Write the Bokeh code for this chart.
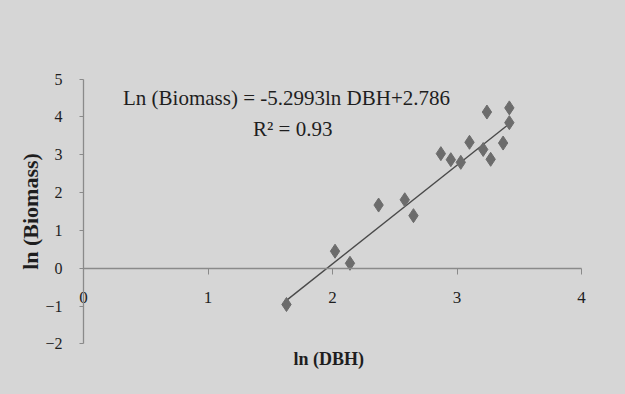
import math
from bokeh.plotting import figure
from bokeh.models import Range1d, FixedTicker, Label, GlobalInlineStyleSheet
from bokeh.embed import file_html
from bokeh.resources import INLINE

# ---- data ----
ln_dbh = [1.63, 2.02, 2.14, 2.37, 2.58, 2.65, 2.87, 2.95, 3.03, 3.10, 3.21, 3.27, 3.24, 3.37, 3.42, 3.42]
ln_biomass = [-0.96, 0.45, 0.13, 1.67, 1.81, 1.39, 3.03, 2.87, 2.80, 3.33, 3.14, 2.88, 4.13, 3.31, 4.24, 3.85]
trend_x = [1.63, 3.42]
trend_y = [-0.85, 3.82]
x_ticks = [0, 1, 2, 3, 4]
y_ticks = [-2, -1, 0, 1, 2, 3, 4, 5]
equation = "Ln (Biomass) = -5.2993ln DBH+2.786"
r2_text = "R\u00b2 = 0.93"
x_title = "ln (DBH)"
y_title = "ln (Biomass)"

BG = "#d6d6d6"
TXT = "#1e1e1e"
AX = "#8a8a8a"
FONT = "Liberation Serif"

p = figure(width=625, height=394, output_backend="svg", toolbar_location=None,
           x_range=Range1d(-0.667, 4.353), y_range=Range1d(-3.34, 7.08),
           min_border=0)
p.background_fill_color = BG
p.border_fill_color = BG
p.outline_line_color = None
p.grid.visible = False
p.stylesheets = [GlobalInlineStyleSheet(css="body { background: %s; }" % BG)]

# x axis crossing at y = 0
p.xaxis.fixed_location = 0
p.xaxis.bounds = (0, 4)
p.xaxis.ticker = FixedTicker(ticks=x_ticks)
p.xaxis.minor_tick_line_color = None
p.xaxis.major_tick_in = 0
p.xaxis.major_tick_out = 6
p.xaxis.major_label_standoff = 18
p.xaxis.axis_line_color = AX
p.xaxis.major_tick_line_color = AX
p.xaxis.axis_line_width = 1.3
p.xaxis.major_label_text_font = FONT
p.xaxis.major_label_text_font_size = "17px"
p.xaxis.major_label_text_color = TXT

# y axis at x = 0
p.yaxis.fixed_location = 0
p.yaxis.bounds = (-2, 5)
p.yaxis.ticker = FixedTicker(ticks=y_ticks)
p.yaxis.minor_tick_line_color = None
p.yaxis.major_tick_in = 0
p.yaxis.major_tick_out = 4
p.yaxis.major_label_standoff = 17
p.yaxis.axis_line_color = AX
p.yaxis.major_tick_line_color = AX
p.yaxis.axis_line_width = 1.3
p.yaxis.major_label_text_font = FONT
p.yaxis.major_label_text_font_size = "16px"
p.yaxis.major_label_text_color = TXT

# trend line and points
p.line(trend_x, trend_y, line_color="#4a4a4a", line_width=1.4)
p.scatter(ln_dbh, ln_biomass, marker="diamond", size=14, fill_color="#6c6c6c", line_color="#6c6c6c")

# texts
p.add_layout(Label(x=1.63, y=4.49, text=equation, text_align="center", text_baseline="middle",
                   text_font=FONT, text_font_size="21px", text_color=TXT))
p.add_layout(Label(x=1.68, y=3.69, text=r2_text, text_align="center", text_baseline="middle",
                   text_font=FONT, text_font_size="21px", text_color=TXT))
p.add_layout(Label(x=1.97, y=-2.39, text=x_title, text_align="center", text_baseline="middle",
                   text_font=FONT, text_font_size="18px", text_font_style="bold", text_color=TXT))
p.add_layout(Label(x=-0.426, y=1.5, text=y_title, angle=math.pi / 2, text_align="center",
                   text_baseline="middle", text_font=FONT, text_font_size="22px",
                   text_font_style="bold", text_color=TXT))

open("out.html", "w").write(file_html(p, INLINE))
